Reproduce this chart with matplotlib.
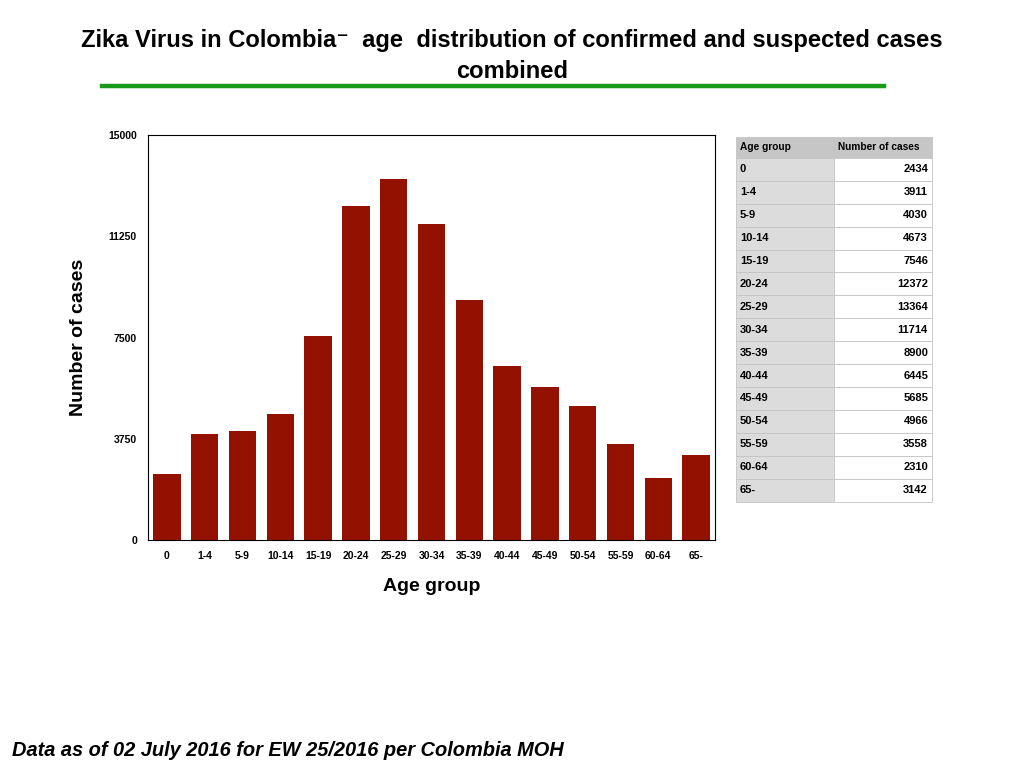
import matplotlib.pyplot as plt
from matplotlib.patches import Rectangle
from matplotlib.lines import Line2D

# data
age_groups = ['0', '1-4', '5-9', '10-14', '15-19', '20-24', '25-29', '30-34',
              '35-39', '40-44', '45-49', '50-54', '55-59', '60-64', '65-']
cases = [2434, 3911, 4030, 4673, 7546, 12372, 13364, 11714,
         8900, 6445, 5685, 4966, 3558, 2310, 3142]
y_ticks = [0, 3750, 7500, 11250, 15000]

W, H = 1024, 768
fig = plt.figure(figsize=(W / 100, H / 100), dpi=100)
plt.rcParams['font.family'] = ['Liberation Sans', 'DejaVu Sans']

# chart
ax = fig.add_axes([148 / W, 1 - 540 / H, 567 / W, 405 / H])
ax.bar(range(len(cases)), cases, width=0.72, color='#931100')
ax.set_xlim(-0.5, len(cases) - 0.5)
ax.set_ylim(0, 15000)
ax.set_yticks(y_ticks)
ax.set_yticklabels([str(v) for v in y_ticks], fontsize=7.5, fontweight='bold')
ax.set_xticks(range(len(cases)))
ax.set_xticklabels(age_groups, fontsize=7.5, fontweight='bold')
ax.tick_params(length=0, pad=8)
for s in ax.spines.values():
    s.set_linewidth(0.8)
ax.set_xlabel('Age group', fontsize=14, fontweight='bold', labelpad=12)
ax.set_ylabel('Number of cases', fontsize=14, fontweight='bold', labelpad=15)

# title
fig.text(512 / W, 1 - 41 / H, 'Zika Virus in Colombia\u207b  age  distribution of confirmed and suspected cases',
         ha='center', va='center', fontsize=17.1, fontweight='bold')
fig.text(512 / W, 1 - 71 / H, 'combined', ha='center', va='center',
         fontsize=17.1, fontweight='bold')
fig.add_artist(Line2D([102 / W, 884 / W], [1 - 86 / H, 1 - 86 / H],
                      color='#1a9a1a', linewidth=3.2))

# table
x0, x1, x2 = 736, 834, 932
top, hdr_h, row_h = 137, 21, 22.9


def rect(x, y, w, h, fc):
    fig.add_artist(Rectangle((x / W, 1 - (y + h) / H), w / W, h / H,
                             facecolor=fc, edgecolor='#c4c4c4', linewidth=0.6))


rect(x0, top, x1 - x0, hdr_h, '#c6c6c6')
rect(x1, top, x2 - x1, hdr_h, '#c6c6c6')
fig.text((x0 + 4) / W, 1 - (top + hdr_h / 2) / H, 'Age group',
         fontsize=7.3, fontweight='bold', va='center')
fig.text((x1 + 4) / W, 1 - (top + hdr_h / 2) / H, 'Number of cases',
         fontsize=7.3, fontweight='bold', va='center')
for i, (g, c) in enumerate(zip(age_groups, cases)):
    y = top + hdr_h + i * row_h
    rect(x0, y, x1 - x0, row_h, '#dcdcdc')
    rect(x1, y, x2 - x1, row_h, 'white')
    fig.text((x0 + 4) / W, 1 - (y + row_h / 2) / H, g,
             fontsize=8, fontweight='bold', va='center')
    fig.text((x2 - 4) / W, 1 - (y + row_h / 2) / H, str(c),
             fontsize=8, fontweight='bold', va='center', ha='right')

# footer
fig.text(12 / W, 1 - 750 / H, 'Data as of 02 July 2016 for EW 25/2016 per Colombia MOH',
         fontsize=14.4, fontweight='bold', fontstyle='italic', va='center')

fig.savefig('out.png', dpi=100)
